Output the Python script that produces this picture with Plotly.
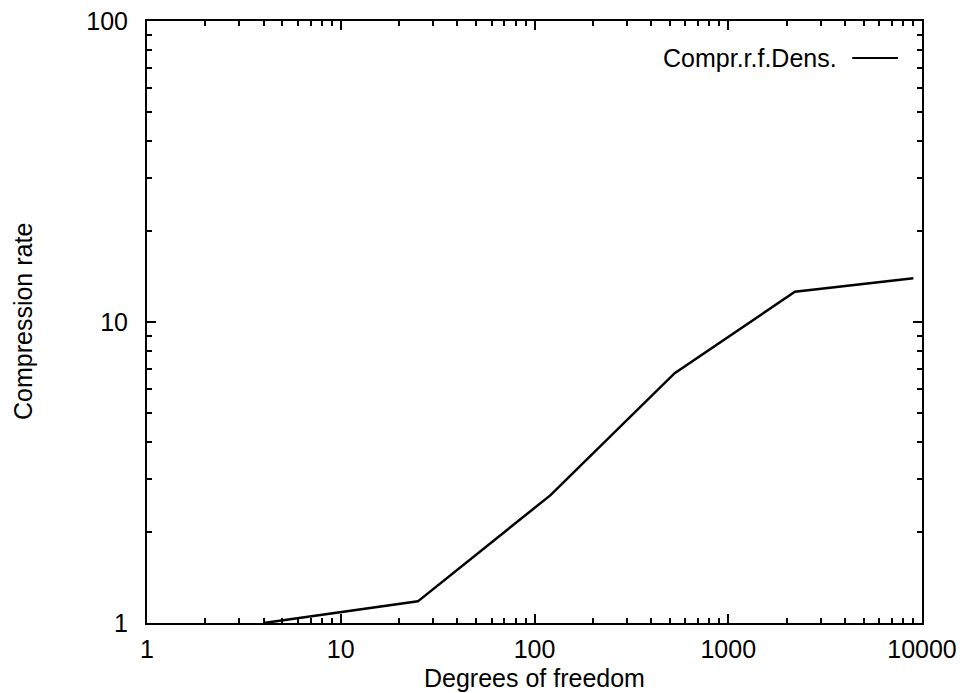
import plotly.graph_objects as go

# Degrees of freedom for each refinement level and the measured compression rate
dof = [4, 25, 121, 529, 2209, 9025]
compression_rate = [1.0, 1.18, 2.66, 6.76, 12.6, 13.97]
series_name = "Compr.r.f.Dens."

x_tick_vals = [1, 10, 100, 1000, 10000]
x_tick_text = ["1", "10", "100", "1000", "10000"]
y_tick_vals = [1, 10, 100]
y_tick_text = ["1", "10", "100"]

FONT = "Liberation Sans, Arial, Helvetica, sans-serif"
TEXT = dict(family=FONT, size=25, color="black")


def minor_ticks(decades):
    # 2..9 times each decade start, for log-axis minor ticks
    return [m * d for d in decades[:-1] for m in range(2, 10)]


axis_common = dict(
    type="log", showline=True, linecolor="black", linewidth=2, mirror="ticks",
    ticks="inside", ticklen=9, tickwidth=2, tickcolor="black",
    showgrid=False, zeroline=False, tickmode="array", automargin=False,
    tickfont=TEXT,
)

fig = go.Figure()
fig.add_trace(go.Scatter(
    x=dof, y=compression_rate, mode="lines", name=series_name,
    line=dict(color="black", width=2.5), showlegend=False,
))

fig.update_xaxes(
    range=[0, 4], tickvals=x_tick_vals, ticktext=x_tick_text,
    minor=dict(tickmode="array", tickvals=minor_ticks(x_tick_vals), ticks="inside",
               ticklen=5, tickwidth=2, tickcolor="black", showgrid=False),
    ticklabelstandoff=3,
    **axis_common,
)
fig.update_yaxes(
    range=[0, 2], tickvals=y_tick_vals, ticktext=y_tick_text,
    minor=dict(tickmode="array", tickvals=minor_ticks(y_tick_vals), ticks="inside",
               ticklen=5, tickwidth=2, tickcolor="black", showgrid=False),
    ticklabelstandoff=12,
    **axis_common,
)

# Axis titles
fig.add_annotation(
    x=0.5, y=-0.092, xref="paper", yref="paper", xanchor="center", yanchor="middle",
    text="Degrees of freedom", showarrow=False, font=TEXT,
)
fig.add_annotation(
    x=-0.16, y=0.5, xref="paper", yref="paper", xanchor="center", yanchor="middle",
    text="Compression rate", textangle=-90, showarrow=False, font=TEXT,
)

# Key in the top-right corner: label followed by a line sample
fig.add_annotation(
    x=0.893, y=0.9385, xref="paper", yref="paper", xanchor="right", yanchor="middle",
    text=series_name, showarrow=False, font=TEXT,
)
fig.add_shape(
    type="line", xref="paper", yref="paper",
    x0=0.910, x1=0.969, y0=0.9385, y1=0.9385, line=dict(color="black", width=2),
)

fig.update_layout(
    width=962, height=693,
    margin=dict(l=147, r=40, t=21, b=70),
    paper_bgcolor="white", plot_bgcolor="white",
)

fig.write_html("out.html")
